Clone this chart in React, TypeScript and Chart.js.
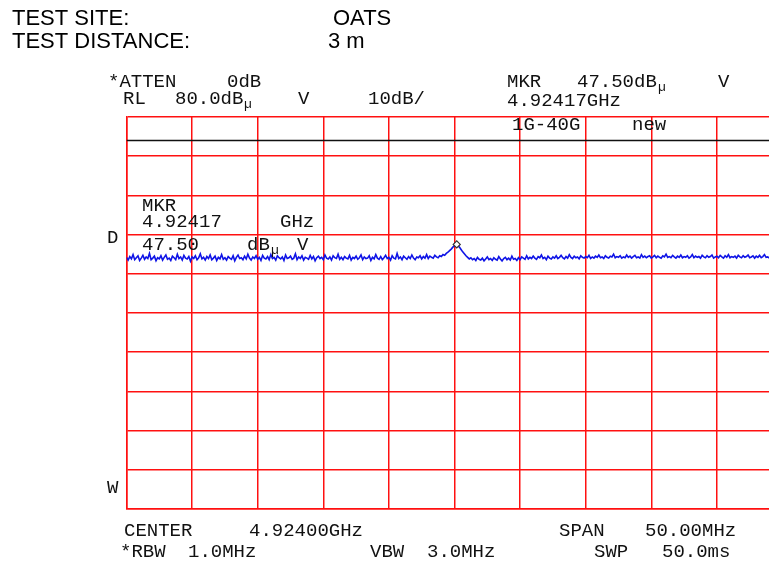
import React, { useEffect, useRef } from "react";
import { Chart, registerables } from "chart.js";

Chart.register(...registerables);

// Sweep grid (spectrum analyser): 4.899 GHz .. 4.949 GHz, 0.125 MHz per point
const FREQ_START_MHZ = 4899;
const FREQ_STEP_MHZ = 0.125;

// Trace levels in dBµV
const traceLevels = [
  44.2, 43.5, 44.4, 43.8, 44.9, 43.6, 44.1, 44.6, 43.4, 44.0, 44.7, 43.7, 44.3, 43.9, 45.2, 43.6, 44.0, 44.5, 43.3, 44.1,
  43.8, 44.6, 43.5, 44.2, 44.8, 43.7, 44.0, 43.4, 44.5, 44.1, 43.6, 45.0, 43.9, 44.3, 43.5, 44.7, 44.0, 43.8, 44.4, 43.2,
  44.3, 43.9, 44.6, 43.6, 44.1, 45.1, 43.8, 44.2, 43.5, 44.4, 43.9, 44.8, 43.6, 44.0, 44.5, 43.4, 44.2, 43.8, 44.9, 43.7,
  44.1, 43.5, 44.4, 44.0, 43.7, 44.6, 43.3, 44.2, 44.8, 43.9, 44.1, 43.6, 44.5, 43.8, 45.0, 44.0, 43.5, 44.3, 43.9, 44.6,
  43.7, 44.2, 43.4, 44.7, 44.0, 43.8, 44.4, 43.6, 44.9, 43.9, 44.2, 43.5, 44.6, 44.1, 43.8, 44.3, 43.4, 44.8, 43.9, 44.1,
  44.5, 43.7, 44.0, 45.1, 43.6, 44.3, 43.9, 44.6, 43.5, 44.2, 44.0, 43.7, 44.7, 43.8, 44.4, 43.3, 44.1, 44.5, 43.9, 44.2,
  43.6, 44.8, 44.0, 43.8, 44.3, 43.5, 44.6, 44.1, 43.9, 45.0, 43.7, 44.2, 43.6, 44.4, 44.0, 43.8, 44.7, 43.5, 44.2, 43.9,
  44.5, 43.7, 44.1, 44.8, 43.6, 44.3, 43.9, 44.0, 44.6, 43.4, 44.2, 43.8, 44.9, 44.0, 43.7, 44.4, 43.6, 44.1, 44.7, 43.9,
  44.2, 43.5, 44.6, 44.0, 43.8, 45.2, 43.9, 44.3, 43.6, 44.5, 44.1, 43.7, 44.4, 43.9, 44.8, 44.0, 43.6, 44.3, 44.1, 44.6,
  43.8, 44.4, 44.0, 44.9, 43.9, 44.5, 44.2, 44.0, 44.7, 44.3, 44.1, 44.6, 44.4, 44.9, 44.7, 45.2, 45.5, 45.9, 46.3, 46.8,
  47.2, 47.5, 47.1, 46.8, 46.2, 45.6, 45.1, 44.6, 44.2, 43.8, 44.1, 43.6, 43.9, 43.4, 44.2, 43.7, 43.5, 44.0, 43.3, 43.8,
  44.3, 43.6, 43.9, 43.4, 44.1, 43.7, 43.5, 44.4, 43.8, 43.3, 43.9, 44.2, 43.6, 44.0, 43.5, 44.5, 43.7, 43.9, 43.4, 44.1,
  43.6, 44.3, 44.0, 43.7, 44.6, 43.8, 44.2, 43.9, 44.5, 44.0, 43.7, 44.4, 44.1, 44.8, 43.9, 44.2, 43.6, 44.5, 44.0, 43.8,
  44.3, 44.0, 44.6, 43.9, 44.2, 44.7, 44.1, 43.8, 44.4, 44.0, 44.9, 44.2, 43.9, 44.5, 44.1, 44.3, 43.8, 44.6, 44.2, 44.0,
  44.4, 44.1, 44.7, 43.9, 44.3, 44.0, 44.5, 44.2, 44.8, 44.1, 44.3, 43.9, 44.6, 44.2, 44.0, 44.5, 44.3, 45.0, 44.1, 44.4,
  44.2, 44.6, 44.0, 44.3, 44.1, 44.8, 44.2, 44.5, 44.0, 44.4, 44.7, 44.1, 44.3, 44.0, 44.9, 44.2, 44.5, 44.1, 44.4, 44.6,
  44.0, 44.3, 44.7, 44.1, 44.5, 44.2, 44.0, 44.6, 44.3, 45.0, 44.2, 44.4, 44.1, 44.7, 44.3, 44.0, 44.5, 44.2, 44.8, 44.1,
  44.4, 44.2, 44.6, 44.0, 44.3, 44.9, 44.1, 44.5, 44.2, 44.4, 44.0, 44.7, 44.3, 44.1, 44.6, 44.2, 44.4, 44.8, 44.0, 44.3,
  44.5, 44.1, 44.7, 44.3, 44.0, 44.6, 44.2, 44.9, 44.1, 44.4, 44.2, 44.5, 44.0, 44.7, 44.3, 44.1, 44.6, 44.2, 44.4, 44.8,
  44.1, 44.3, 44.6, 44.0, 44.5, 44.2, 44.7, 44.1, 44.4, 44.9, 44.2, 44.3, 44.0, 44.6, 44.4, 44.1, 44.5, 44.3, 44.7, 44.2,
  44.4,
];

// Grid divisions: 5 MHz/div horizontally, 10 dB/div vertically (RL 80 dB)
const xTicks = [4899, 4904, 4909, 4914, 4919, 4924, 4929, 4934, 4939, 4944, 4949];
const yTicks = [-20, -10, 0, 10, 20, 30, 40, 50, 60, 70, 80];

// Display line and marker
const limitLevel = 74;
const markerFreq = 4924.17;
const markerLevel = 47.5;

// Header texts
const siteLabel = "TEST SITE:";
const siteValue = "OATS";
const distanceLabel = "TEST DISTANCE:";
const distanceValue = "3 m";

export default function App() {
  const ref = useRef<HTMLCanvasElement>(null);

  useEffect(() => {
    const canvas = ref.current;
    if (!canvas) return;

    const textPlugin = {
      id: "instrumentText",
      afterDraw(chart: any) {
        const ctx = chart.ctx as CanvasRenderingContext2D;
        ctx.save();
        ctx.textAlign = "left";
        ctx.textBaseline = "alphabetic";
        const sans = '22px "Liberation Sans", Arial, sans-serif';
        const mono = '19px "Liberation Mono", "Courier New", monospace';
        const micro = '13px "Liberation Mono", "Courier New", monospace';
        const put = (s: string, x: number, y: number, f: string, c = "#111") => {
          ctx.font = f;
          ctx.fillStyle = c;
          ctx.fillText(s, x, y);
        };
        // header
        put(siteLabel, 12, 25, sans, "#000");
        put(siteValue, 333, 25, sans, "#000");
        put(distanceLabel, 12, 48, sans, "#000");
        put(distanceValue, 328, 48, sans, "#000");
        // top annotation
        put("*ATTEN", 108, 87, mono);
        put("0dB", 227, 87, mono);
        put("RL", 123, 104, mono);
        put("80.0dB", 175, 104, mono);
        put("µ", 244, 108, micro);
        put("V", 298, 104, mono);
        put("10dB/", 368, 104, mono);
        put("MKR", 507, 87, mono);
        put("47.50dB", 577, 87, mono);
        put("µ", 658, 91, micro);
        put("V", 718, 87, mono);
        put("4.92417GHz", 507, 106, mono);
        // in-grid annotation
        put("1G-40G", 512, 130, mono);
        put("new", 632, 130, mono);
        put("MKR", 142, 211, mono);
        put("4.92417", 142, 227, mono);
        put("GHz", 280, 227, mono);
        put("47.50", 142, 250, mono);
        put("dB", 247, 250, mono);
        put("µ", 271, 254, micro);
        put("V", 297, 250, mono);
        // side letters
        put("D", 107, 243, mono);
        put("W", 107, 493, mono);
        // bottom annotation
        put("CENTER", 124, 536, mono);
        put("4.92400GHz", 249, 536, mono);
        put("SPAN", 559, 536, mono);
        put("50.00MHz", 645, 536, mono);
        put("*RBW", 120, 557, mono);
        put("1.0MHz", 188, 557, mono);
        put("VBW", 370, 557, mono);
        put("3.0MHz", 427, 557, mono);
        put("SWP", 594, 557, mono);
        put("50.0ms", 662, 557, mono);
        ctx.restore();
      },
    };

    const gridRed = "#ff1010";
    const chart = new Chart(canvas, {
      type: "line",
      data: {
        datasets: [
          {
            label: "Limit",
            data: [
              { x: xTicks[0], y: limitLevel },
              { x: xTicks[xTicks.length - 1], y: limitLevel },
            ],
            borderColor: "#111111",
            borderWidth: 1.6,
            pointRadius: 0,
            order: 3,
          },
          {
            label: "Trace",
            data: traceLevels.map((v, i) => ({ x: FREQ_START_MHZ + i * FREQ_STEP_MHZ, y: v })),
            borderColor: "#0f14e6",
            borderWidth: 1.6,
            pointRadius: 0,
            tension: 0,
            order: 2,
          },
          {
            label: "Marker",
            data: [{ x: markerFreq, y: markerLevel }],
            showLine: false,
            pointStyle: "rectRot",
            pointRadius: 3.5,
            borderColor: "#333333",
            backgroundColor: "#ffffff",
            borderWidth: 1.2,
            order: 1,
          },
        ],
      },
      options: {
        responsive: false,
        animation: false,
        devicePixelRatio: 1,
        layout: { padding: { left: 126.5, right: 7.5, top: 117, bottom: 52 } },
        plugins: { legend: { display: false }, tooltip: { enabled: false } },
        scales: {
          x: {
            type: "linear",
            min: xTicks[0],
            max: xTicks[xTicks.length - 1],
            afterBuildTicks: (s: any) => {
              s.ticks = xTicks.map((v) => ({ value: v }));
            },
            ticks: { display: false },
            grid: { color: gridRed, lineWidth: 1.5, drawTicks: false },
            border: { color: gridRed, width: 1.5 },
          },
          y: {
            type: "linear",
            min: yTicks[0],
            max: yTicks[yTicks.length - 1],
            afterBuildTicks: (s: any) => {
              s.ticks = yTicks.map((v) => ({ value: v }));
            },
            ticks: { display: false },
            grid: { color: gridRed, lineWidth: 1.5, drawTicks: false },
            border: { color: gridRed, width: 1.5 },
          },
        },
      },
      plugins: [textPlugin],
    } as any);

    return () => chart.destroy();
  }, []);

  return (
    <div
      style={{
        position: "fixed",
        left: 0,
        top: 0,
        width: 769,
        height: 561,
        overflow: "hidden",
        background: "#fff",
      }}
    >
      <canvas ref={ref} width={790} height={561} style={{ display: "block" }} />
    </div>
  );
}
